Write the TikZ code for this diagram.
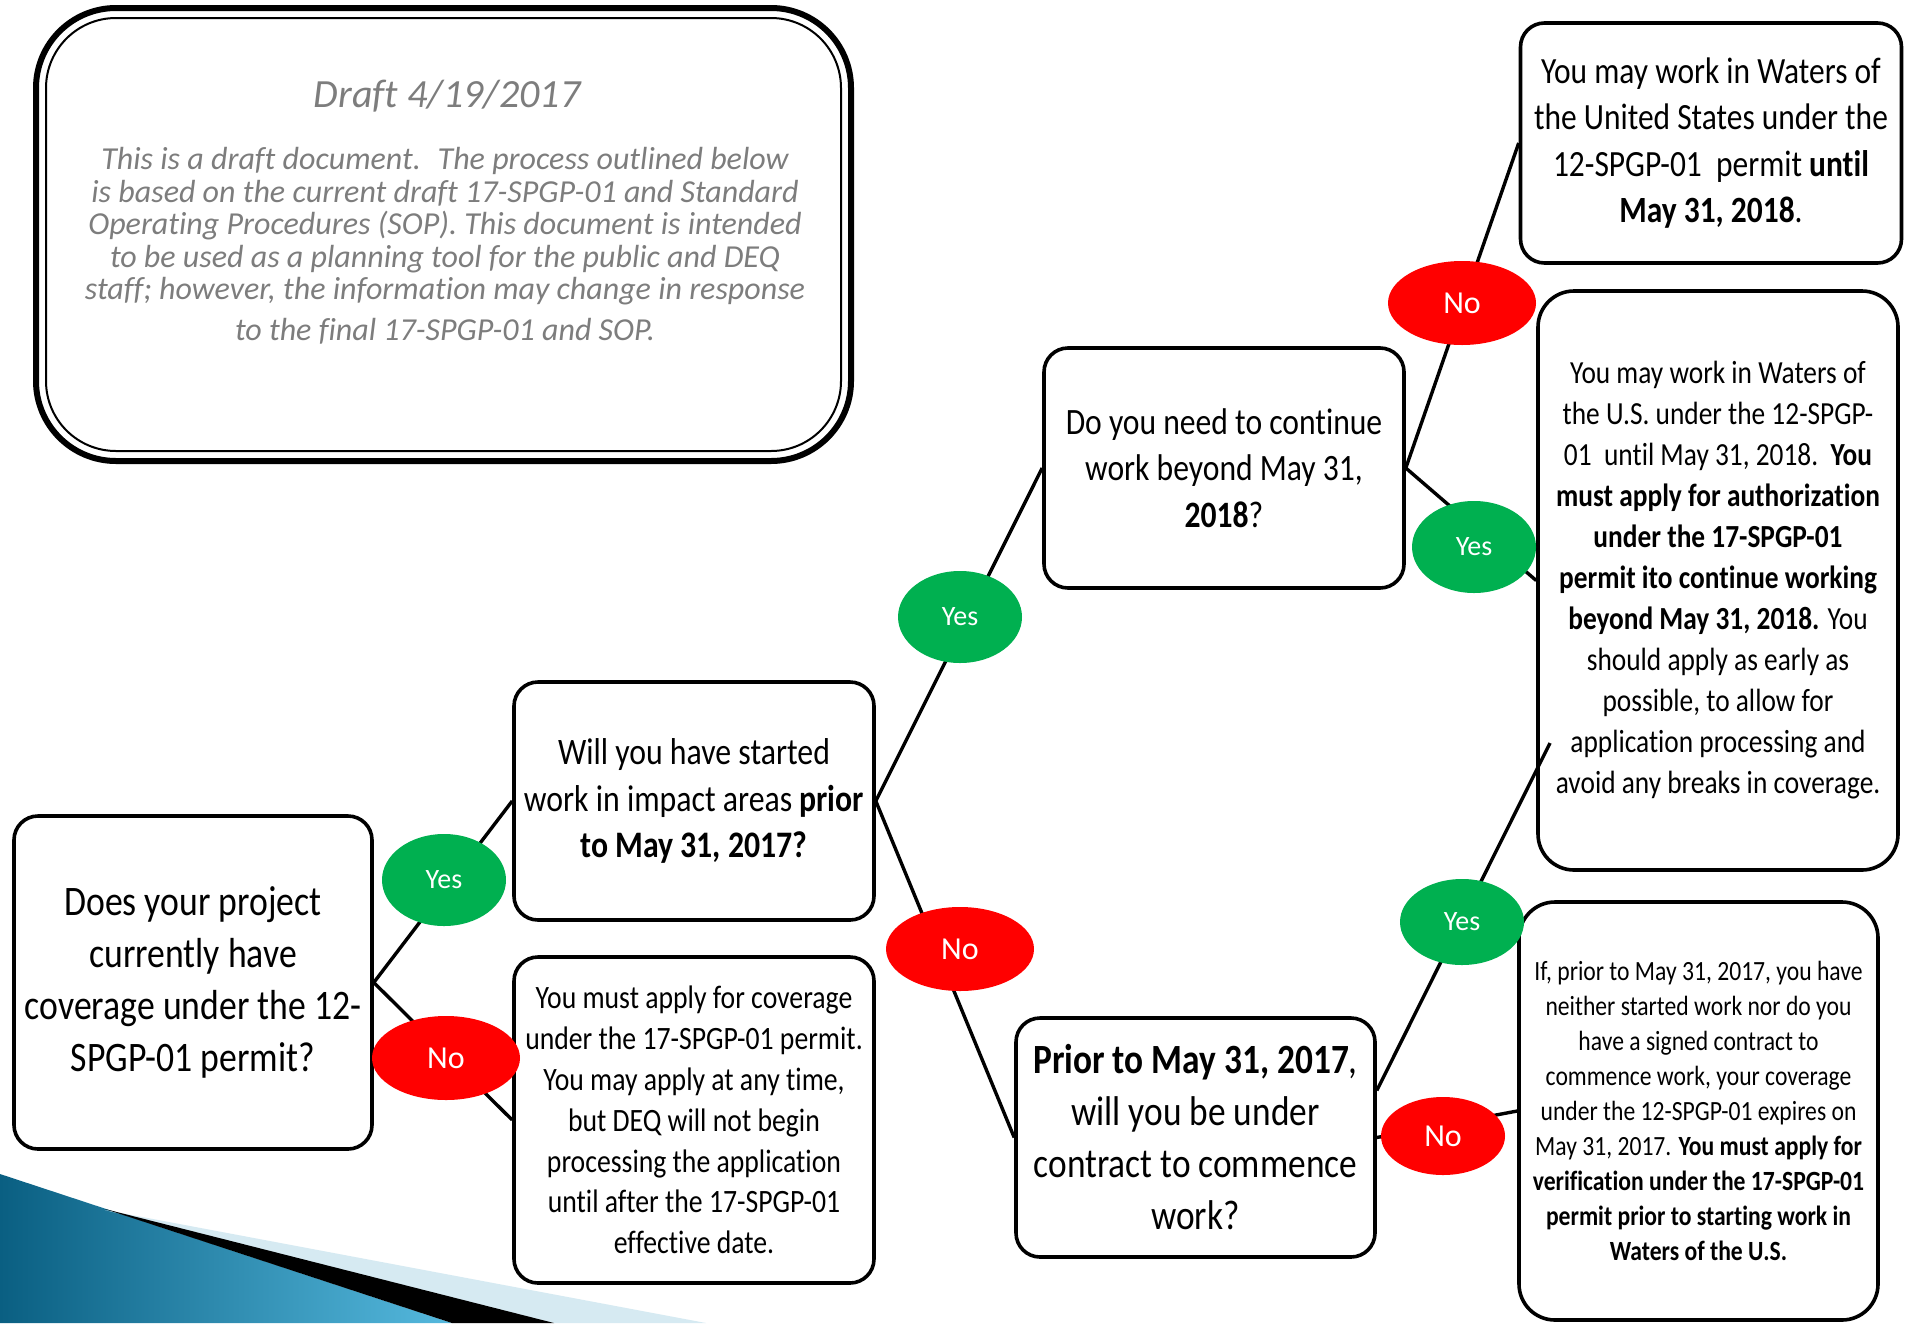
\documentclass[tikz,border=0pt]{standalone}
\usepackage{fontspec}
\setmainfont{Carlito}[FakeStretch=0.85,Ligatures=NoCommon]
\newfontfamily\lblfont{Carlito}[Ligatures=NoCommon]
\usetikzlibrary{shapes.geometric}

\definecolor{yesgreen}{RGB}{0,176,80}
\definecolor{nored}{RGB}{255,0,0}
\definecolor{draftgray}{RGB}{125,125,125}
\definecolor{bluedark}{RGB}{10,95,130}
\definecolor{bluelight}{RGB}{85,185,222}
\definecolor{paleblue}{RGB}{214,234,242}

\begin{document}
\begin{tikzpicture}[x=0.5pt,y=-0.5pt,
  box/.style={draw, line width=1.8pt, rounded corners=12pt, fill=white, align=center, inner sep=0pt},
  conn/.style={line width=1.7pt},
  yesnode/.style={ellipse, fill=yesgreen, text=white, inner sep=0pt, font=\lblfont\fontsize{14}{16}\selectfont},
  nonode/.style={ellipse, fill=nored, text=white, inner sep=0pt, font=\lblfont\fontsize{16}{18}\selectfont},
]
\useasboundingbox (0,0) rectangle (1905,1323);
\fill[white] (0,0) rectangle (1905,1323);

% decoration bottom-left
\shade[left color=bluedark, right color=bluelight] (0,1174) -- (452,1323) -- (0,1323) -- cycle;
\fill[paleblue] (105,1210) -- (706,1323) -- (554,1323) -- cycle;
\fill[black] (105,1209) -- (554,1323) -- (452,1323) -- cycle;

% draft box
\node[draw, line width=3pt, outer sep=0pt, rounded corners=40pt, minimum width=407.5pt, minimum height=226.5pt] (draft) at (443.5,234.5) {};
\draw[line width=1pt, rounded corners=35pt] ([shift={(5pt,-5pt)}]draft.north west) rectangle ([shift={(-5pt,5pt)}]draft.south east);
\node[font=\lblfont\itshape\fontsize{20}{24}\selectfont, text=draftgray, anchor=base] (dtitle) at (447,107) {Draft 4/19/2017};
\node[font=\lblfont\itshape\fontsize{16}{16.25}\selectfont, text=draftgray, align=center, anchor=north, inner sep=0pt] (dbody) at (445,147)
 {This is a draft document.~ The process outlined below\\
  is based on the current draft 17-SPGP-01 and Standard\\
  Operating Procedures (SOP). This document is intended\\
  to be used as a planning tool for the public and DEQ\\
  staff; however, the information may change in response\\[4pt]
  to the final 17-SPGP-01 and SOP.};

% boxes
\node[box, minimum width=179pt, minimum height=166.5pt, font=\fontsize{21}{26}\selectfont] (A) at (193,982.5)
 {Does your project\\currently have\\coverage under the 12-\\SPGP-01 permit?};
\node[box, minimum width=180pt, minimum height=119pt, font=\fontsize{18.7}{23.3}\selectfont] (B) at (694,801)
 {Will you have started\\work in impact areas \textbf{prior}\\\textbf{to May 31, 2017?}};
\node[box, minimum width=180pt, minimum height=163pt, font=\fontsize{16.3}{20.4}\selectfont] (C) at (694,1120)
 {You must apply for coverage\\under the 17-SPGP-01 permit.\\You may apply at any time,\\but DEQ will not begin\\processing the application\\until after the 17-SPGP-01\\effective date.};
\node[box, minimum width=180pt, minimum height=120pt, font=\fontsize{18.6}{23.3}\selectfont] (D) at (1224,468)
 {Do you need to continue\\work beyond May 31,\\\textbf{2018}?};
\node[box, minimum width=179.5pt, minimum height=119.5pt, font=\fontsize{20.8}{26}\selectfont] (E) at (1195.5,1137.5)
 {\textbf{Prior to May 31, 2017},\\will you be under\\contract to commence\\work?};
\node[box, minimum width=190.5pt, minimum height=120pt, font=\fontsize{18.5}{23.3}\selectfont] (F) at (1711,143)
 {You may work in Waters of\\the United States under the\\12-SPGP-01~~permit \textbf{until}\\\textbf{May 31, 2018}.};
\node[box, rounded corners=18pt, minimum width=180pt, minimum height=289.5pt, font=\fontsize{16.1}{20.5}\selectfont] (G) at (1718,580.5)
 {You may work in Waters of\\the U.S. under the 12-SPGP-\\01~~until May 31, 2018.~~\textbf{You}\\\textbf{must apply for authorization}\\\textbf{under the 17-SPGP-01}\\\textbf{permit ito continue working}\\\textbf{beyond May 31, 2018.} You\\should apply as early as\\possible, to allow for\\application processing and\\avoid any breaks in coverage.};
\node[box, rounded corners=18pt, minimum width=179.5pt, minimum height=209pt, font=\fontsize{13.9}{17.5}\selectfont] (H) at (1698.5,1111)
 {If, prior to May 31, 2017, you have\\neither started work nor do you\\have a signed contract to\\commence work, your coverage\\under the 12-SPGP-01 expires on\\May 31, 2017. \textbf{You must apply for}\\\textbf{verification under the 17-SPGP-01}\\\textbf{permit prior to starting work in}\\\textbf{Waters of the U.S.}};

\coordinate (gin) at (1550,743);

% connectors
\draw[conn] (A.east) -- (B.west);
\draw[conn] (A.east) -- (C.west);
\draw[conn] (B.east) -- (D.west);
\draw[conn] (B.east) -- (E.west);
\draw[conn] (D.east) -- (F.west);
\draw[conn] (D.east) -- (G.west);
\draw[conn] ([yshift=23.5pt]E.east) -- (gin);
\draw[conn] (E.east) -- (H.west);

% labels
\node[yesnode, minimum width=62pt, minimum height=46pt] (y1) at (444,880) {Yes};
\node[nonode, minimum width=74pt, minimum height=42pt] (n1) at (446,1058) {No};
\node[yesnode, minimum width=62pt, minimum height=46pt] (y2) at (960,617) {Yes};
\node[nonode, minimum width=74pt, minimum height=42pt] (n2) at (960,949) {No};
\node[nonode, minimum width=74pt, minimum height=42pt] (n3) at (1462,303) {No};
\node[yesnode, minimum width=62pt, minimum height=46pt] (y3) at (1474,547) {Yes};
\node[yesnode, minimum width=62pt, minimum height=43pt] (y4) at (1462,922) {Yes};
\node[nonode, minimum width=62pt, minimum height=39pt] (n4) at (1443,1136) {No};
\end{tikzpicture}
\end{document}
